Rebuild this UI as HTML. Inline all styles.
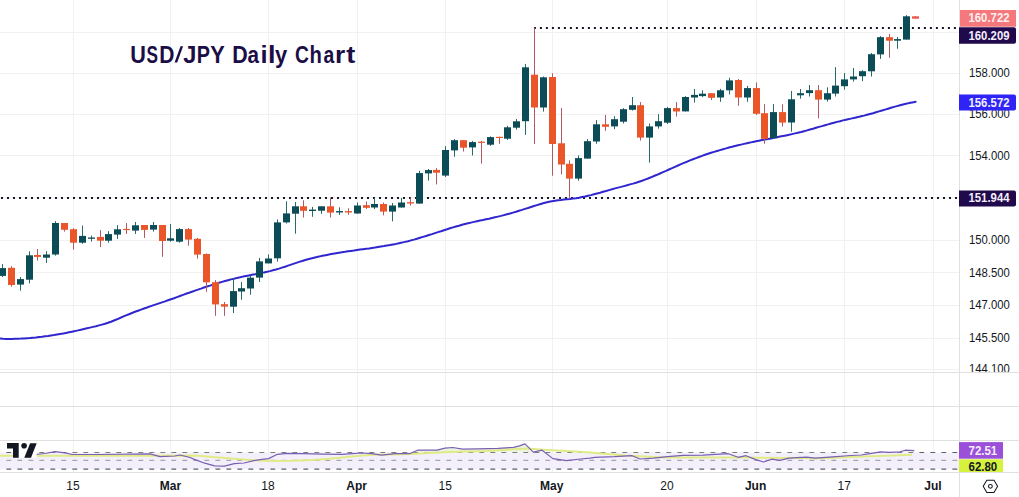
<!DOCTYPE html>
<html><head><meta charset="utf-8"><style>
html,body{margin:0;padding:0;background:#fff;}
body{width:1019px;height:497px;overflow:hidden;}
svg{display:block;}
text{font-family:"Liberation Sans",sans-serif;}
</style></head><body>
<svg width="1019" height="497" viewBox="0 0 1019 497">
<rect width="1019" height="497" fill="#ffffff"/>
<line x1="73.5" y1="0" x2="73.5" y2="472" stroke="#f1f1f1" stroke-width="1"/>
<line x1="170.5" y1="0" x2="170.5" y2="472" stroke="#f1f1f1" stroke-width="1"/>
<line x1="268.5" y1="0" x2="268.5" y2="472" stroke="#f1f1f1" stroke-width="1"/>
<line x1="357.5" y1="0" x2="357.5" y2="472" stroke="#f1f1f1" stroke-width="1"/>
<line x1="445.5" y1="0" x2="445.5" y2="472" stroke="#f1f1f1" stroke-width="1"/>
<line x1="552.5" y1="0" x2="552.5" y2="472" stroke="#f1f1f1" stroke-width="1"/>
<line x1="667.5" y1="0" x2="667.5" y2="472" stroke="#f1f1f1" stroke-width="1"/>
<line x1="756.5" y1="0" x2="756.5" y2="472" stroke="#f1f1f1" stroke-width="1"/>
<line x1="844.5" y1="0" x2="844.5" y2="472" stroke="#f1f1f1" stroke-width="1"/>
<line x1="933.5" y1="0" x2="933.5" y2="472" stroke="#f1f1f1" stroke-width="1"/>
<line x1="0" y1="32.5" x2="959.5" y2="32.5" stroke="#f1f1f1" stroke-width="1"/>
<line x1="0" y1="73.5" x2="959.5" y2="73.5" stroke="#f1f1f1" stroke-width="1"/>
<line x1="0" y1="114.5" x2="959.5" y2="114.5" stroke="#f1f1f1" stroke-width="1"/>
<line x1="0" y1="155.5" x2="959.5" y2="155.5" stroke="#f1f1f1" stroke-width="1"/>
<line x1="0" y1="197.5" x2="959.5" y2="197.5" stroke="#f1f1f1" stroke-width="1"/>
<line x1="0" y1="240.5" x2="959.5" y2="240.5" stroke="#f1f1f1" stroke-width="1"/>
<line x1="0" y1="272.5" x2="959.5" y2="272.5" stroke="#f1f1f1" stroke-width="1"/>
<line x1="0" y1="305.5" x2="959.5" y2="305.5" stroke="#f1f1f1" stroke-width="1"/>
<line x1="0" y1="338.5" x2="959.5" y2="338.5" stroke="#f1f1f1" stroke-width="1"/>
<line x1="0" y1="369.5" x2="959.5" y2="369.5" stroke="#f1f1f1" stroke-width="1"/>
<rect x="0" y="452.5" width="959.5" height="16.7" fill="#f4f0fb"/>
<line x1="0" y1="372.5" x2="1019" y2="372.5" stroke="#e0e0e0" stroke-width="1"/>
<line x1="0" y1="406.5" x2="1019" y2="406.5" stroke="#e0e0e0" stroke-width="1"/>
<line x1="0" y1="440.5" x2="1019" y2="440.5" stroke="#e0e0e0" stroke-width="1"/>
<line x1="0" y1="472.5" x2="1019" y2="472.5" stroke="#e0e0e0" stroke-width="1"/>
<line x1="959.5" y1="0" x2="959.5" y2="497" stroke="#e0e0e0" stroke-width="1"/>
<defs><clipPath id="cm"><rect x="0" y="0" width="959" height="372"/></clipPath><clipPath id="cr"><rect x="0" y="441" width="959" height="31"/></clipPath></defs>
<g clip-path="url(#cm)">
<line x1="1" y1="198" x2="959.0" y2="198" stroke="#131722" stroke-width="2" stroke-dasharray="2 4"/>
<line x1="533.9" y1="28" x2="959.0" y2="28" stroke="#131722" stroke-width="2" stroke-dasharray="2 4"/>
<polyline points="0.0,338.6 3.0,338.8 6.0,338.9 9.0,338.9 12.0,338.9 15.0,338.8 18.0,338.7 21.0,338.6 24.0,338.4 27.0,338.2 30.0,338.0 33.0,337.7 36.0,337.4 39.0,337.0 42.0,336.7 45.0,336.3 48.0,335.9 51.0,335.4 54.0,335.0 57.0,334.5 60.0,334.0 63.0,333.5 66.0,332.9 69.0,332.3 72.0,331.7 75.0,331.1 78.0,330.4 81.0,329.7 84.0,329.0 87.0,328.3 90.0,327.6 93.0,326.9 96.0,326.2 99.0,325.4 102.0,324.6 105.0,323.8 108.0,322.8 111.0,321.7 114.0,320.5 117.0,319.3 120.0,318.0 123.0,316.7 126.0,315.4 129.0,314.2 132.0,313.0 135.0,311.8 138.0,310.7 141.0,309.6 144.0,308.5 147.0,307.5 150.0,306.4 153.0,305.4 156.0,304.4 159.0,303.4 162.0,302.4 165.0,301.4 168.0,300.3 171.0,299.2 174.0,298.2 177.0,297.1 180.0,296.0 183.0,294.9 186.0,293.8 189.0,292.8 192.0,291.7 195.0,290.6 198.0,289.6 201.0,288.6 204.0,287.5 207.0,286.5 210.0,285.6 213.0,284.6 216.0,283.7 219.0,282.8 222.0,281.9 225.0,281.0 228.0,280.2 231.0,279.4 234.0,278.7 237.0,277.9 240.0,277.3 243.0,276.6 246.0,276.0 249.0,275.4 252.0,274.8 255.0,274.3 258.0,273.7 261.0,273.1 264.0,272.4 267.0,271.8 270.0,271.1 273.0,270.3 276.0,269.5 279.0,268.6 282.0,267.6 285.0,266.7 288.0,265.6 291.0,264.6 294.0,263.6 297.0,262.6 300.0,261.6 303.0,260.7 306.0,259.8 309.0,259.0 312.0,258.2 315.0,257.5 318.0,256.8 321.0,256.1 324.0,255.5 327.0,254.9 330.0,254.3 333.0,253.7 336.0,253.2 339.0,252.7 342.0,252.2 345.0,251.8 348.0,251.3 351.0,250.9 354.0,250.5 357.0,250.0 360.0,249.6 363.0,249.2 366.0,248.8 369.0,248.4 372.0,247.9 375.0,247.5 378.0,247.0 381.0,246.5 384.0,246.1 387.0,245.5 390.0,245.0 393.0,244.4 396.0,243.9 399.0,243.2 402.0,242.6 405.0,241.9 408.0,241.2 411.0,240.4 414.0,239.6 417.0,238.7 420.0,237.8 423.0,236.9 426.0,236.0 429.0,235.0 432.0,234.1 435.0,233.1 438.0,232.1 441.0,231.2 444.0,230.2 447.0,229.3 450.0,228.3 453.0,227.4 456.0,226.5 459.0,225.7 462.0,224.8 465.0,224.0 468.0,223.3 471.0,222.6 474.0,221.9 477.0,221.2 480.0,220.6 483.0,220.0 486.0,219.3 489.0,218.7 492.0,218.0 495.0,217.3 498.0,216.6 501.0,215.9 504.0,215.1 507.0,214.3 510.0,213.5 513.0,212.6 516.0,211.8 519.0,210.8 522.0,209.9 525.0,208.9 528.0,208.0 531.0,207.0 534.0,206.0 537.0,205.1 540.0,204.2 543.0,203.3 546.0,202.5 549.0,201.8 552.0,201.2 555.0,200.7 558.0,200.3 561.0,200.0 564.0,199.6 567.0,199.3 570.0,199.0 573.0,198.6 576.0,198.2 579.0,197.7 582.0,197.1 585.0,196.5 588.0,195.8 591.0,195.1 594.0,194.3 597.0,193.5 600.0,192.7 603.0,191.8 606.0,191.0 609.0,190.1 612.0,189.3 615.0,188.4 618.0,187.6 621.0,186.9 624.0,186.1 627.0,185.3 630.0,184.4 633.0,183.6 636.0,182.7 639.0,181.7 642.0,180.7 645.0,179.6 648.0,178.5 651.0,177.3 654.0,176.0 657.0,174.8 660.0,173.5 663.0,172.2 666.0,170.9 669.0,169.5 672.0,168.2 675.0,166.8 678.0,165.5 681.0,164.2 684.0,162.9 687.0,161.7 690.0,160.4 693.0,159.2 696.0,158.1 699.0,157.0 702.0,155.9 705.0,154.8 708.0,153.8 711.0,152.8 714.0,151.9 717.0,151.0 720.0,150.1 723.0,149.2 726.0,148.4 729.0,147.5 732.0,146.8 735.0,146.0 738.0,145.3 741.0,144.6 744.0,143.9 747.0,143.2 750.0,142.6 753.0,141.9 756.0,141.3 759.0,140.7 762.0,140.1 765.0,139.5 768.0,139.0 771.0,138.4 774.0,137.8 777.0,137.2 780.0,136.6 783.0,136.0 786.0,135.4 789.0,134.8 792.0,134.1 795.0,133.4 798.0,132.7 801.0,132.0 804.0,131.2 807.0,130.4 810.0,129.5 813.0,128.7 816.0,127.8 819.0,126.9 822.0,126.1 825.0,125.2 828.0,124.4 831.0,123.5 834.0,122.7 837.0,121.9 840.0,121.2 843.0,120.4 846.0,119.7 849.0,119.1 852.0,118.4 855.0,117.7 858.0,117.1 861.0,116.3 864.0,115.6 867.0,114.8 870.0,114.0 873.0,113.2 876.0,112.3 879.0,111.4 882.0,110.5 885.0,109.6 888.0,108.7 891.0,107.8 894.0,106.9 897.0,106.1 900.0,105.3 903.0,104.5 906.0,103.8 909.0,103.1 912.0,102.5 915.0,101.9 915.6,101.8" fill="none" stroke="#3026cf" stroke-width="2" stroke-linejoin="round" stroke-linecap="round"/>
<rect x="2" y="264.10" width="1" height="12.90" fill="#286c6a"/>
<rect x="-1" y="268.10" width="7" height="7.80" fill="#0b4c57"/>
<rect x="11" y="266.20" width="1" height="20.50" fill="#b05864"/>
<rect x="8" y="267.80" width="7" height="17.20" fill="#ea5529"/>
<rect x="20" y="277.00" width="1" height="13.70" fill="#286c6a"/>
<rect x="17" y="279.10" width="7" height="5.50" fill="#0b4c57"/>
<rect x="29" y="251.20" width="1" height="32.20" fill="#286c6a"/>
<rect x="26" y="255.30" width="7" height="24.40" fill="#0b4c57"/>
<rect x="37" y="249.10" width="1" height="11.50" fill="#b05864"/>
<rect x="34" y="255.00" width="7" height="1.90" fill="#ea5529"/>
<rect x="46" y="251.20" width="1" height="11.80" fill="#286c6a"/>
<rect x="43" y="254.50" width="7" height="3.20" fill="#0b4c57"/>
<rect x="55" y="221.10" width="1" height="34.50" fill="#286c6a"/>
<rect x="52" y="223.00" width="7" height="31.50" fill="#0b4c57"/>
<rect x="64" y="223.00" width="1" height="8.60" fill="#b05864"/>
<rect x="61" y="223.00" width="7" height="6.80" fill="#ea5529"/>
<rect x="73" y="228.20" width="1" height="21.40" fill="#b05864"/>
<rect x="70" y="229.20" width="7" height="13.50" fill="#ea5529"/>
<rect x="82" y="225.50" width="1" height="18.20" fill="#286c6a"/>
<rect x="79" y="235.90" width="7" height="6.80" fill="#0b4c57"/>
<rect x="91" y="235.60" width="1" height="6.00" fill="#286c6a"/>
<rect x="88" y="237.50" width="7" height="1.30" fill="#0b4c57"/>
<rect x="100" y="230.10" width="1" height="16.90" fill="#b05864"/>
<rect x="97" y="236.90" width="7" height="3.80" fill="#ea5529"/>
<rect x="108" y="231.10" width="1" height="11.60" fill="#286c6a"/>
<rect x="105" y="234.10" width="7" height="6.60" fill="#0b4c57"/>
<rect x="117" y="225.10" width="1" height="13.90" fill="#286c6a"/>
<rect x="114" y="229.30" width="7" height="5.30" fill="#0b4c57"/>
<rect x="126" y="223.00" width="1" height="10.90" fill="#b05864"/>
<rect x="123" y="228.90" width="7" height="1.20" fill="#ea5529"/>
<rect x="135" y="222.00" width="1" height="11.90" fill="#286c6a"/>
<rect x="132" y="225.30" width="7" height="5.30" fill="#0b4c57"/>
<rect x="144" y="225.00" width="1" height="12.90" fill="#b05864"/>
<rect x="141" y="225.00" width="7" height="4.90" fill="#ea5529"/>
<rect x="153" y="222.00" width="1" height="9.60" fill="#286c6a"/>
<rect x="150" y="225.00" width="7" height="4.60" fill="#0b4c57"/>
<rect x="162" y="225.00" width="1" height="31.80" fill="#b05864"/>
<rect x="159" y="225.00" width="7" height="16.00" fill="#ea5529"/>
<rect x="170" y="224.00" width="1" height="17.70" fill="#286c6a"/>
<rect x="167" y="238.30" width="7" height="2.40" fill="#0b4c57"/>
<rect x="179" y="228.00" width="1" height="14.70" fill="#286c6a"/>
<rect x="176" y="229.10" width="7" height="12.60" fill="#0b4c57"/>
<rect x="188" y="228.00" width="1" height="17.70" fill="#b05864"/>
<rect x="185" y="229.10" width="7" height="10.50" fill="#ea5529"/>
<rect x="197" y="238.00" width="1" height="20.50" fill="#b05864"/>
<rect x="194" y="238.80" width="7" height="15.80" fill="#ea5529"/>
<rect x="206" y="253.50" width="1" height="38.30" fill="#b05864"/>
<rect x="203" y="254.00" width="7" height="28.30" fill="#ea5529"/>
<rect x="215" y="280.00" width="1" height="35.80" fill="#b05864"/>
<rect x="212" y="282.20" width="7" height="22.20" fill="#ea5529"/>
<rect x="224" y="302.00" width="1" height="13.80" fill="#b05864"/>
<rect x="221" y="304.20" width="7" height="2.40" fill="#ea5529"/>
<rect x="233" y="278.00" width="1" height="35.00" fill="#286c6a"/>
<rect x="230" y="291.10" width="7" height="15.60" fill="#0b4c57"/>
<rect x="241" y="282.00" width="1" height="17.70" fill="#286c6a"/>
<rect x="238" y="288.20" width="7" height="3.30" fill="#0b4c57"/>
<rect x="250" y="275.50" width="1" height="19.20" fill="#286c6a"/>
<rect x="247" y="277.70" width="7" height="10.80" fill="#0b4c57"/>
<rect x="259" y="257.90" width="1" height="24.10" fill="#286c6a"/>
<rect x="256" y="261.40" width="7" height="16.20" fill="#0b4c57"/>
<rect x="268" y="254.40" width="1" height="9.00" fill="#286c6a"/>
<rect x="265" y="258.50" width="7" height="4.90" fill="#0b4c57"/>
<rect x="277" y="219.40" width="1" height="42.20" fill="#286c6a"/>
<rect x="274" y="222.40" width="7" height="35.90" fill="#0b4c57"/>
<rect x="286" y="201.30" width="1" height="22.20" fill="#286c6a"/>
<rect x="283" y="213.40" width="7" height="9.00" fill="#0b4c57"/>
<rect x="295" y="202.00" width="1" height="31.70" fill="#286c6a"/>
<rect x="292" y="206.30" width="7" height="7.40" fill="#0b4c57"/>
<rect x="303" y="200.30" width="1" height="17.20" fill="#b05864"/>
<rect x="300" y="206.30" width="7" height="4.50" fill="#ea5529"/>
<rect x="312" y="206.90" width="1" height="9.90" fill="#286c6a"/>
<rect x="309" y="209.60" width="7" height="1.40" fill="#0b4c57"/>
<rect x="321" y="206.30" width="1" height="7.60" fill="#286c6a"/>
<rect x="318" y="206.30" width="7" height="4.40" fill="#0b4c57"/>
<rect x="330" y="197.50" width="1" height="20.00" fill="#b05864"/>
<rect x="327" y="206.30" width="7" height="6.30" fill="#ea5529"/>
<rect x="339" y="207.30" width="1" height="7.60" fill="#286c6a"/>
<rect x="336" y="211.10" width="7" height="1.40" fill="#0b4c57"/>
<rect x="348" y="208.30" width="1" height="6.50" fill="#b05864"/>
<rect x="345" y="211.10" width="7" height="1.40" fill="#ea5529"/>
<rect x="357" y="202.50" width="1" height="11.30" fill="#286c6a"/>
<rect x="354" y="205.50" width="7" height="8.00" fill="#0b4c57"/>
<rect x="366" y="201.50" width="1" height="7.50" fill="#b05864"/>
<rect x="363" y="205.20" width="7" height="2.60" fill="#ea5529"/>
<rect x="374" y="198.00" width="1" height="11.00" fill="#286c6a"/>
<rect x="371" y="204.00" width="7" height="3.50" fill="#0b4c57"/>
<rect x="383" y="202.50" width="1" height="12.80" fill="#b05864"/>
<rect x="380" y="204.00" width="7" height="7.60" fill="#ea5529"/>
<rect x="392" y="203.00" width="1" height="18.40" fill="#286c6a"/>
<rect x="389" y="205.50" width="7" height="6.10" fill="#0b4c57"/>
<rect x="401" y="198.00" width="1" height="9.50" fill="#286c6a"/>
<rect x="398" y="202.50" width="7" height="5.00" fill="#0b4c57"/>
<rect x="410" y="197.50" width="1" height="8.00" fill="#b05864"/>
<rect x="407" y="202.20" width="7" height="1.30" fill="#ea5529"/>
<rect x="419" y="170.80" width="1" height="32.80" fill="#286c6a"/>
<rect x="416" y="173.10" width="7" height="30.50" fill="#0b4c57"/>
<rect x="428" y="169.00" width="1" height="11.60" fill="#286c6a"/>
<rect x="425" y="170.10" width="7" height="3.30" fill="#0b4c57"/>
<rect x="436" y="168.20" width="1" height="16.20" fill="#b05864"/>
<rect x="433" y="169.90" width="7" height="2.80" fill="#ea5529"/>
<rect x="445" y="146.20" width="1" height="30.90" fill="#286c6a"/>
<rect x="442" y="150.00" width="7" height="25.60" fill="#0b4c57"/>
<rect x="454" y="139.10" width="1" height="17.70" fill="#286c6a"/>
<rect x="451" y="140.20" width="7" height="10.20" fill="#0b4c57"/>
<rect x="463" y="140.00" width="1" height="11.50" fill="#b05864"/>
<rect x="460" y="140.20" width="7" height="7.50" fill="#ea5529"/>
<rect x="472" y="140.90" width="1" height="14.60" fill="#286c6a"/>
<rect x="469" y="142.10" width="7" height="5.30" fill="#0b4c57"/>
<rect x="481" y="140.90" width="1" height="22.60" fill="#b05864"/>
<rect x="478" y="141.70" width="7" height="1.20" fill="#ea5529"/>
<rect x="490" y="136.40" width="1" height="9.50" fill="#286c6a"/>
<rect x="487" y="137.10" width="7" height="7.60" fill="#0b4c57"/>
<rect x="499" y="136.80" width="1" height="7.10" fill="#b05864"/>
<rect x="496" y="136.80" width="7" height="1.20" fill="#ea5529"/>
<rect x="507" y="125.80" width="1" height="14.10" fill="#286c6a"/>
<rect x="504" y="127.30" width="7" height="11.40" fill="#0b4c57"/>
<rect x="516" y="119.00" width="1" height="10.60" fill="#286c6a"/>
<rect x="513" y="121.30" width="7" height="6.40" fill="#0b4c57"/>
<rect x="525" y="63.90" width="1" height="71.00" fill="#286c6a"/>
<rect x="522" y="67.30" width="7" height="53.90" fill="#0b4c57"/>
<rect x="534" y="27.60" width="1" height="116.40" fill="#b05864"/>
<rect x="531" y="74.70" width="7" height="32.80" fill="#ea5529"/>
<rect x="543" y="76.50" width="1" height="35.10" fill="#286c6a"/>
<rect x="540" y="77.30" width="7" height="30.20" fill="#0b4c57"/>
<rect x="552" y="73.30" width="1" height="102.40" fill="#b05864"/>
<rect x="549" y="77.00" width="7" height="67.00" fill="#ea5529"/>
<rect x="561" y="108.00" width="1" height="66.40" fill="#b05864"/>
<rect x="558" y="143.30" width="7" height="21.20" fill="#ea5529"/>
<rect x="569" y="160.30" width="1" height="38.00" fill="#b05864"/>
<rect x="566" y="163.80" width="7" height="14.80" fill="#ea5529"/>
<rect x="578" y="155.40" width="1" height="25.40" fill="#286c6a"/>
<rect x="575" y="158.10" width="7" height="20.50" fill="#0b4c57"/>
<rect x="587" y="139.10" width="1" height="19.50" fill="#286c6a"/>
<rect x="584" y="141.20" width="7" height="17.40" fill="#0b4c57"/>
<rect x="596" y="120.10" width="1" height="23.70" fill="#286c6a"/>
<rect x="593" y="124.30" width="7" height="17.20" fill="#0b4c57"/>
<rect x="605" y="115.00" width="1" height="15.80" fill="#b05864"/>
<rect x="602" y="124.30" width="7" height="2.50" fill="#ea5529"/>
<rect x="614" y="116.10" width="1" height="13.00" fill="#286c6a"/>
<rect x="611" y="119.20" width="7" height="7.20" fill="#0b4c57"/>
<rect x="623" y="108.10" width="1" height="15.40" fill="#286c6a"/>
<rect x="620" y="109.20" width="7" height="12.50" fill="#0b4c57"/>
<rect x="632" y="97.00" width="1" height="13.60" fill="#286c6a"/>
<rect x="629" y="105.20" width="7" height="4.60" fill="#0b4c57"/>
<rect x="640" y="102.10" width="1" height="38.50" fill="#b05864"/>
<rect x="637" y="105.20" width="7" height="32.40" fill="#ea5529"/>
<rect x="649" y="123.50" width="1" height="39.10" fill="#286c6a"/>
<rect x="646" y="126.40" width="7" height="11.20" fill="#0b4c57"/>
<rect x="658" y="114.10" width="1" height="14.50" fill="#286c6a"/>
<rect x="655" y="121.20" width="7" height="5.20" fill="#0b4c57"/>
<rect x="667" y="106.90" width="1" height="17.10" fill="#286c6a"/>
<rect x="664" y="108.10" width="7" height="14.60" fill="#0b4c57"/>
<rect x="676" y="102.10" width="1" height="14.50" fill="#b05864"/>
<rect x="673" y="108.10" width="7" height="3.40" fill="#ea5529"/>
<rect x="685" y="96.10" width="1" height="15.30" fill="#286c6a"/>
<rect x="682" y="97.00" width="7" height="14.40" fill="#0b4c57"/>
<rect x="694" y="88.90" width="1" height="13.70" fill="#286c6a"/>
<rect x="691" y="94.90" width="7" height="2.60" fill="#0b4c57"/>
<rect x="702" y="90.30" width="1" height="6.80" fill="#286c6a"/>
<rect x="699" y="93.70" width="7" height="2.40" fill="#0b4c57"/>
<rect x="711" y="93.00" width="1" height="7.00" fill="#b05864"/>
<rect x="708" y="93.20" width="7" height="4.60" fill="#ea5529"/>
<rect x="720" y="88.90" width="1" height="12.90" fill="#286c6a"/>
<rect x="717" y="90.30" width="7" height="7.20" fill="#0b4c57"/>
<rect x="729" y="77.80" width="1" height="16.60" fill="#286c6a"/>
<rect x="726" y="80.40" width="7" height="9.90" fill="#0b4c57"/>
<rect x="738" y="79.00" width="1" height="26.70" fill="#b05864"/>
<rect x="735" y="80.00" width="7" height="17.50" fill="#ea5529"/>
<rect x="747" y="85.90" width="1" height="15.90" fill="#286c6a"/>
<rect x="744" y="88.10" width="7" height="9.40" fill="#0b4c57"/>
<rect x="756" y="82.40" width="1" height="32.50" fill="#b05864"/>
<rect x="753" y="88.10" width="7" height="25.70" fill="#ea5529"/>
<rect x="764" y="104.10" width="1" height="39.60" fill="#b05864"/>
<rect x="761" y="113.20" width="7" height="25.60" fill="#ea5529"/>
<rect x="773" y="104.10" width="1" height="34.10" fill="#286c6a"/>
<rect x="770" y="112.10" width="7" height="26.10" fill="#0b4c57"/>
<rect x="782" y="104.30" width="1" height="22.30" fill="#b05864"/>
<rect x="779" y="112.10" width="7" height="10.50" fill="#ea5529"/>
<rect x="791" y="91.00" width="1" height="40.70" fill="#286c6a"/>
<rect x="788" y="99.30" width="7" height="23.20" fill="#0b4c57"/>
<rect x="800" y="89.00" width="1" height="9.70" fill="#286c6a"/>
<rect x="797" y="93.20" width="7" height="2.10" fill="#0b4c57"/>
<rect x="809" y="85.00" width="1" height="11.50" fill="#286c6a"/>
<rect x="806" y="90.20" width="7" height="2.90" fill="#0b4c57"/>
<rect x="818" y="85.00" width="1" height="33.40" fill="#b05864"/>
<rect x="815" y="90.20" width="7" height="9.40" fill="#ea5529"/>
<rect x="827" y="87.30" width="1" height="14.30" fill="#286c6a"/>
<rect x="824" y="93.20" width="7" height="6.40" fill="#0b4c57"/>
<rect x="835" y="67.10" width="1" height="29.40" fill="#286c6a"/>
<rect x="832" y="85.60" width="7" height="8.00" fill="#0b4c57"/>
<rect x="844" y="73.10" width="1" height="16.60" fill="#286c6a"/>
<rect x="841" y="79.40" width="7" height="6.80" fill="#0b4c57"/>
<rect x="853" y="68.00" width="1" height="13.60" fill="#286c6a"/>
<rect x="850" y="76.50" width="7" height="2.90" fill="#0b4c57"/>
<rect x="862" y="70.20" width="1" height="10.90" fill="#286c6a"/>
<rect x="859" y="71.20" width="7" height="5.00" fill="#0b4c57"/>
<rect x="871" y="53.00" width="1" height="23.60" fill="#286c6a"/>
<rect x="868" y="54.20" width="7" height="17.10" fill="#0b4c57"/>
<rect x="880" y="36.10" width="1" height="22.80" fill="#286c6a"/>
<rect x="877" y="37.20" width="7" height="17.20" fill="#0b4c57"/>
<rect x="889" y="34.00" width="1" height="23.80" fill="#b05864"/>
<rect x="886" y="37.20" width="7" height="3.50" fill="#ea5529"/>
<rect x="897" y="36.90" width="1" height="11.90" fill="#286c6a"/>
<rect x="894" y="39.10" width="7" height="1.60" fill="#0b4c57"/>
<rect x="906" y="15.10" width="1" height="24.50" fill="#286c6a"/>
<rect x="903" y="16.30" width="7" height="23.30" fill="#0b4c57"/>
<rect x="915" y="16.30" width="1" height="2.40" fill="#b05864"/>
<rect x="912" y="16.30" width="7" height="2.40" fill="#ef5a4a"/>
</g>
<g fill="#1b0d45"><text transform="translate(130.20,62.7) scale(0.898,1)" font-size="24.1" font-weight="bold">U</text>
<text transform="translate(146.60,62.7) scale(0.713,1)" font-size="24.1" font-weight="bold">S</text>
<text transform="translate(159.29,62.7) scale(0.873,1)" font-size="24.1" font-weight="bold">D</text>
<text transform="translate(183.24,62.7) scale(0.983,1)" font-size="24.1" font-weight="bold">J</text>
<text transform="translate(196.67,62.7) scale(0.821,1)" font-size="24.1" font-weight="bold">P</text>
<text transform="translate(210.33,62.7) scale(0.903,1)" font-size="24.1" font-weight="bold">Y</text>
<text transform="translate(232.27,62.7) scale(0.887,1)" font-size="24.1" font-weight="bold">D</text>
<text transform="translate(247.50,62.7) scale(0.856,1)" font-size="24.1" font-weight="bold">a</text>
<text transform="translate(260.41,62.7) scale(1.060,1)" font-size="24.1" font-weight="bold">i</text>
<text transform="translate(267.91,62.7) scale(1.121,1)" font-size="24.1" font-weight="bold">l</text>
<text transform="translate(274.92,62.7) scale(0.909,1)" font-size="24.1" font-weight="bold">y</text>
<text transform="translate(295.11,62.7) scale(0.799,1)" font-size="24.1" font-weight="bold">C</text>
<text transform="translate(309.38,62.7) scale(0.840,1)" font-size="24.1" font-weight="bold">h</text>
<text transform="translate(323.54,62.7) scale(0.802,1)" font-size="24.1" font-weight="bold">a</text>
<text transform="translate(334.96,62.7) scale(1.091,1)" font-size="24.1" font-weight="bold">r</text>
<text transform="translate(346.37,62.7) scale(1.128,1)" font-size="24.1" font-weight="bold">t</text>
<path d="M174.6 62.6L177.2 62.6L183.1 46.2L180.5 46.2Z"/></g>
<g clip-path="url(#cr)">
<line x1="6.4" y1="452.5" x2="959.0" y2="452.5" stroke="#5d606b" stroke-width="1.2" stroke-dasharray="4.8 6.2"/>
<line x1="6.4" y1="460.4" x2="959.0" y2="460.4" stroke="#a3a6af" stroke-width="1.2" stroke-dasharray="4.8 6.2"/>
<line x1="6.4" y1="469.2" x2="959.0" y2="469.2" stroke="#5d606b" stroke-width="1.2" stroke-dasharray="4.8 6.2"/>
<clipPath id="ob"><rect x="0" y="440" width="959" height="12.5"/></clipPath>
<polygon clip-path="url(#ob)" points="35.0,454.5 45.0,453.5 55.0,451.6 65.0,452.8 72.0,454.5 100.0,454.5 150.0,453.8 160.0,456.7 175.0,456.0 180.0,455.0 190.0,457.5 195.0,459.6 204.8,463.2 214.6,465.9 224.4,466.1 234.3,463.6 244.1,463.0 253.9,460.6 263.7,459.2 268.6,458.6 277.4,454.3 287.2,453.3 303.0,453.7 322.6,454.1 342.2,454.3 352.0,453.7 361.8,453.0 371.6,453.7 381.5,455.1 395.0,453.7 409.6,453.7 417.5,450.2 429.3,450.2 437.1,450.2 445.0,448.2 452.8,447.5 462.6,449.2 478.3,448.8 498.0,448.4 513.6,447.3 519.5,445.9 525.0,443.9 533.3,452.2 542.1,450.2 552.9,458.6 566.6,460.6 580.4,459.0 590.0,458.1 594.8,457.3 614.4,456.7 632.1,455.7 640.0,459.0 653.7,458.1 667.4,456.7 683.1,455.3 702.8,455.1 728.3,453.7 738.1,457.3 746.0,455.7 755.8,459.6 763.6,462.0 771.5,459.2 780.0,460.3 788.8,458.2 806.5,457.1 815.3,458.2 833.0,456.8 850.7,455.5 861.3,455.0 868.3,453.8 880.7,451.8 889.5,452.4 900.1,451.8 905.4,450.2 914.3,450.6 914.3,452.5 35,452.5" fill="#e3f2d6" opacity="0.8"/>
<polyline points="0.0,455.7 100.0,455.7 150.0,455.7 195.0,455.4 234.0,458.7 254.0,460.3 273.0,460.9 293.0,460.7 313.0,459.9 332.0,458.4 352.0,456.4 372.0,454.8 395.0,454.4 410.0,454.0 449.0,452.1 488.0,450.9 518.0,448.9 527.0,448.6 547.0,449.9 567.0,451.1 590.0,452.5 625.0,455.4 664.0,457.4 703.0,457.4 742.0,457.4 785.0,458.0 800.0,457.8 815.0,458.4 850.0,457.1 886.0,455.7 912.0,454.8" fill="none" stroke="#e0eb88" stroke-width="2" stroke-linejoin="round"/>
<polyline points="35.0,454.5 45.0,453.5 55.0,451.6 65.0,452.8 72.0,454.5 100.0,454.5 150.0,453.8 160.0,456.7 175.0,456.0 180.0,455.0 190.0,457.5 195.0,459.6 204.8,463.2 214.6,465.9 224.4,466.1 234.3,463.6 244.1,463.0 253.9,460.6 263.7,459.2 268.6,458.6 277.4,454.3 287.2,453.3 303.0,453.7 322.6,454.1 342.2,454.3 352.0,453.7 361.8,453.0 371.6,453.7 381.5,455.1 395.0,453.7 409.6,453.7 417.5,450.2 429.3,450.2 437.1,450.2 445.0,448.2 452.8,447.5 462.6,449.2 478.3,448.8 498.0,448.4 513.6,447.3 519.5,445.9 525.0,443.9 533.3,452.2 542.1,450.2 552.9,458.6 566.6,460.6 580.4,459.0 590.0,458.1 594.8,457.3 614.4,456.7 632.1,455.7 640.0,459.0 653.7,458.1 667.4,456.7 683.1,455.3 702.8,455.1 728.3,453.7 738.1,457.3 746.0,455.7 755.8,459.6 763.6,462.0 771.5,459.2 780.0,460.3 788.8,458.2 806.5,457.1 815.3,458.2 833.0,456.8 850.7,455.5 861.3,455.0 868.3,453.8 880.7,451.8 889.5,452.4 900.1,451.8 905.4,450.2 914.3,450.6" fill="none" stroke="#7a5fb3" stroke-width="1.2" stroke-linejoin="round"/>
</g>
<rect x="13" y="443" width="23.7" height="14.7" fill="#ffffff"/>
<g fill="#131722"><path d="M7 443.1H18.7V457.7H13V448.6H7Z"/><path d="M30.1 443.2H36.7L31 457.7H24.3Z"/><circle cx="24.1" cy="445.7" r="2.8"/></g>
<g>
<text x="969" y="76.5" font-size="12.3" fill="#131722" textLength="40.8" lengthAdjust="spacingAndGlyphs">158.000</text>
<text x="969" y="117.5" font-size="12.3" fill="#131722" textLength="40.8" lengthAdjust="spacingAndGlyphs">156.000</text>
<text x="969" y="160.0" font-size="12.3" fill="#131722" textLength="40.8" lengthAdjust="spacingAndGlyphs">154.000</text>
<text x="969" y="243.8" font-size="12.3" fill="#131722" textLength="40.8" lengthAdjust="spacingAndGlyphs">150.000</text>
<text x="969" y="277.1" font-size="12.3" fill="#131722" textLength="40.8" lengthAdjust="spacingAndGlyphs">148.500</text>
<text x="969" y="308.8" font-size="12.3" fill="#131722" textLength="40.8" lengthAdjust="spacingAndGlyphs">147.000</text>
<text x="969" y="341.8" font-size="12.3" fill="#131722" textLength="40.8" lengthAdjust="spacingAndGlyphs">145.500</text>
<svg x="960" y="355" width="59" height="17" overflow="hidden"><text x="9" y="18.0" font-size="12.3" fill="#131722" textLength="40.8" lengthAdjust="spacingAndGlyphs">144.100</text></svg>
</g>
<path d="M960 10H1016Q1016 10 1016 10V26.7Q1016 26.7 1016 26.7H960Z" fill="#f5787c"/><text x="968.5" y="22.4" font-size="12.3" font-weight="bold" fill="#fdf0f0" textLength="41" lengthAdjust="spacingAndGlyphs">160.722</text>
<path d="M959 27.2H1014Q1016 27.2 1016 29.2V41.8Q1016 43.8 1014 43.8H959Z" fill="#200a4c"/><text x="968.5" y="39.5" font-size="12.3" font-weight="bold" fill="#f4effc" textLength="41" lengthAdjust="spacingAndGlyphs">160.209</text>
<path d="M959 94.4H1014Q1016 94.4 1016 96.4V108.6Q1016 110.6 1014 110.6H959Z" fill="#2f24f5"/><text x="968.5" y="106.5" font-size="12.3" font-weight="bold" fill="#f0f0ff" textLength="41" lengthAdjust="spacingAndGlyphs">156.572</text>
<path d="M959 190.4H1014Q1016 190.4 1016 192.4V204.4Q1016 206.4 1014 206.4H959Z" fill="#200a4c"/><text x="968.5" y="202.4" font-size="12.3" font-weight="bold" fill="#f4effc" textLength="41" lengthAdjust="spacingAndGlyphs">151.944</text>
<rect x="959" y="442.1" width="44" height="16.6" fill="#9b50d9"/>
<text x="968.5" y="455" font-size="12.3" font-weight="bold" fill="#f6eefc" textLength="28.7" lengthAdjust="spacingAndGlyphs">72.51</text>
<rect x="959" y="459.3" width="44" height="12.7" fill="#d6f23c"/>
<text x="968.5" y="471" font-size="12.3" font-weight="bold" fill="#131722" textLength="28.7" lengthAdjust="spacingAndGlyphs">62.80</text>
<text x="72.9" y="490" font-size="12" fill="#131722" text-anchor="middle">15</text>
<text x="170.5" y="490" font-size="12" fill="#131722" text-anchor="middle" font-weight="bold">Mar</text>
<text x="268.0" y="490" font-size="12" fill="#131722" text-anchor="middle">18</text>
<text x="356.7" y="490" font-size="12" fill="#131722" text-anchor="middle" font-weight="bold">Apr</text>
<text x="445.3" y="490" font-size="12" fill="#131722" text-anchor="middle">15</text>
<text x="551.7" y="490" font-size="12" fill="#131722" text-anchor="middle" font-weight="bold">May</text>
<text x="667.0" y="490" font-size="12" fill="#131722" text-anchor="middle">20</text>
<text x="755.6" y="490" font-size="12" fill="#131722" text-anchor="middle" font-weight="bold">Jun</text>
<text x="844.3" y="490" font-size="12" fill="#131722" text-anchor="middle">17</text>
<text x="933.0" y="490" font-size="12" fill="#131722" text-anchor="middle" font-weight="bold">Jul</text>
<polygon points="997.6,486.3 994.0,492.4 986.8,492.4 983.2,486.3 986.8,480.2 994.0,480.2" fill="none" stroke="#131722" stroke-width="1.05"/>
<circle cx="990.4" cy="486.3" r="1.9" fill="none" stroke="#131722" stroke-width="1.05"/>
</svg></body></html>
